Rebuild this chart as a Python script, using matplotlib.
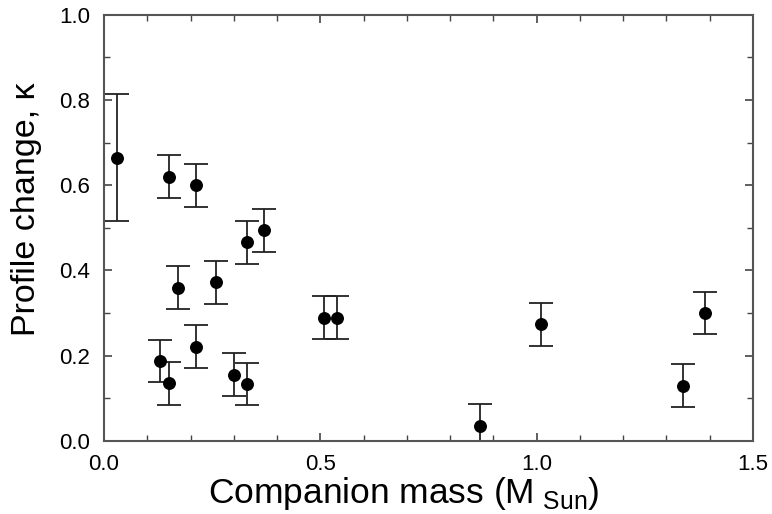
import numpy as np
import matplotlib.pyplot as plt
from matplotlib.ticker import MultipleLocator

plt.rcParams['font.family'] = ['Liberation Sans', 'DejaVu Sans']
plt.rcParams['mathtext.fontset'] = 'custom'
plt.rcParams['mathtext.rm'] = 'Liberation Sans'

mass = np.array([0.029, 0.151, 0.212, 0.171, 0.26, 0.33, 0.37, 0.130, 0.151,
                 0.212, 0.301, 0.33, 0.509, 0.539, 0.869, 1.010, 1.339, 1.389])
kappa = np.array([0.665, 0.62, 0.60, 0.36, 0.372, 0.466, 0.494, 0.188, 0.135,
                  0.221, 0.156, 0.134, 0.289, 0.289, 0.036, 0.274, 0.13, 0.30])
err = np.array([0.15, 0.05, 0.05, 0.05, 0.05, 0.05, 0.05, 0.05, 0.05,
                0.05, 0.05, 0.05, 0.05, 0.05, 0.05, 0.05, 0.05, 0.05])

fig = plt.figure(figsize=(7.72, 5.14), dpi=100)
ax = fig.add_axes([0.1347, 0.142, 0.8407, 0.8294])

ax.errorbar(mass, kappa, yerr=err, fmt='o', color='black', ecolor='#222222',
            markersize=8.3, elinewidth=1.3, capsize=8.6, capthick=1.3)

ax.set_xlim(0, 1.5)
ax.set_ylim(0, 1.0)
ax.xaxis.set_major_locator(MultipleLocator(0.5))
ax.xaxis.set_minor_locator(MultipleLocator(0.1))
ax.yaxis.set_major_locator(MultipleLocator(0.2))
ax.yaxis.set_minor_locator(MultipleLocator(0.1))
ax.xaxis.set_major_formatter(plt.FormatStrFormatter('%.1f'))
ax.yaxis.set_major_formatter(plt.FormatStrFormatter('%.1f'))

ax.tick_params(which='both', direction='in', top=True, right=True,
               color='#444444', labelsize=16)
ax.tick_params(which='major', length=6, width=1.2)
ax.tick_params(axis='x', which='major', pad=9)
ax.tick_params(axis='y', which='major', pad=10)
ax.tick_params(which='minor', length=4, width=1.0)
for s in ax.spines.values():
    s.set_color('#555555')
    s.set_linewidth(1.5)

ax.set_xlabel('Companion mass (M$_{\\rm\\ Sun}$)', fontsize=25.5)
ax.set_ylabel('Profile change, κ', fontsize=24.5)
ax.xaxis.set_label_coords(0.462, -0.08)
ax.yaxis.set_label_coords(-0.095, 0.544)

fig.savefig('out.png', dpi=100)
